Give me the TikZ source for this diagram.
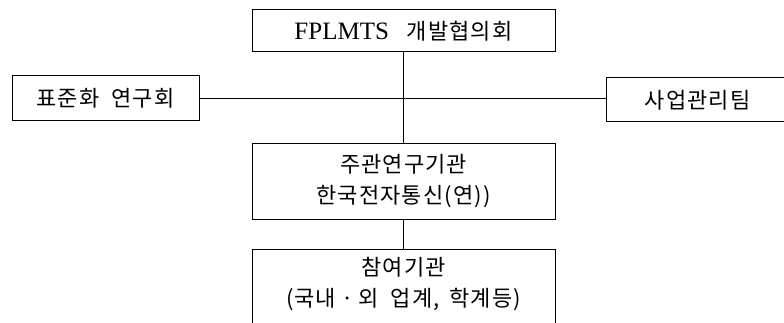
\documentclass[tikz,border=0pt]{standalone}
\usepackage{fontspec}
\setmainfont{Liberation Serif}
\newfontfamily\kr[LetterSpace=5]{Noto Sans CJK KR}
\begin{document}
\begin{tikzpicture}[x=1pt,y=-1pt,
  box/.style={draw=black, line width=1pt, rectangle, inner sep=0pt},
  lbl/.style={inner sep=0pt, align=center, font=\kr\fontsize{22}{31}\selectfont},
  conn/.style={draw=black, line width=0.9pt}]
\useasboundingbox (0,0) rectangle (784,323);
\clip (0,0) rectangle (784,323);
\node[box, minimum width=303, minimum height=42] (top) at (403.5,31)
  {\fontsize{25}{28}\selectfont FPLMTS\hspace{18pt}{\kr\fontsize{22}{28}\selectfont 개발협의회}};
\node[box, minimum width=187, minimum height=45, font=\kr\fontsize{22}{24}\selectfont] (left) at (105.5,98.5) {표준화\hspace{12pt}연구회};
\node[box, minimum width=183, minimum height=44, font=\kr\fontsize{22}{24}\selectfont] (right) at (697.5,100) {사업관리팀};
\node[box, minimum width=303, minimum height=75, lbl] (mid) at (403.5,181.5) {주관연구기관\\한국전자통신(연))};
\node[box, minimum width=303, minimum height=110, anchor=north] (part) at (403.5,249) {};
\node[lbl, anchor=north] (partlbl) at ([yshift=-8]part.north) {참여기관\\(국내\hspace{5pt}·\hspace{5pt}외\hspace{12pt}업계,\hspace{10pt}학계등)};
\draw[conn] (top.south) -- (mid.north);
\draw[conn] (left.east) -- (left.east -| right.west);
\draw[conn] (mid.south) -- (part.north);
\end{tikzpicture}
\end{document}
